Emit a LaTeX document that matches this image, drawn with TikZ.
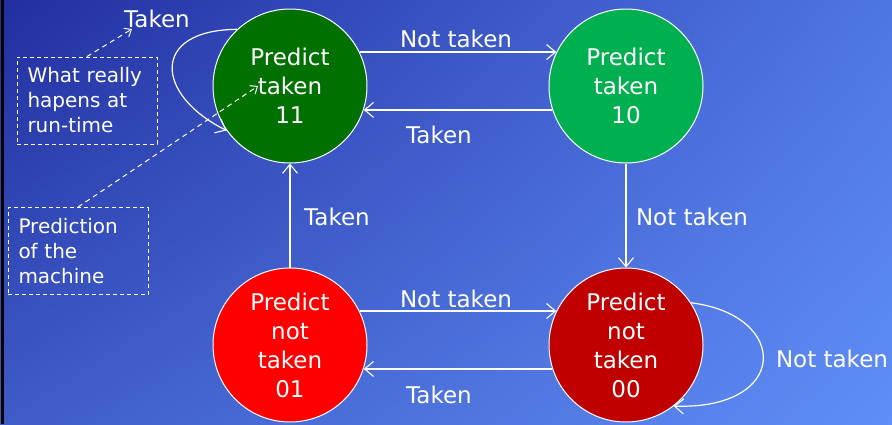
\documentclass[tikz,border=0pt]{standalone}
\usepackage{fontspec}
\setmainfont{DejaVu Sans}
\usetikzlibrary{arrows.meta,shadings}

\definecolor{bgTL}{RGB}{34,46,160}
\definecolor{bgTR}{RGB}{78,118,226}
\definecolor{bgBL}{RGB}{62,92,200}
\definecolor{bgBR}{RGB}{96,142,246}
\definecolor{stDarkGreen}{RGB}{0,112,0}
\definecolor{stGreen}{RGB}{0,176,80}
\definecolor{stRed}{RGB}{255,0,0}
\definecolor{stDarkRed}{RGB}{192,0,0}

\tikzset{
  state/.style={circle, draw=white, line width=1pt, minimum size=154pt,
    inner sep=0pt, text=white, align=center,
    font=\fontsize{23}{29}\selectfont},
  trans/.style={draw=white, line width=1.2pt,
    -{Straight Barb[length=9pt,width=15pt,line width=1.1pt]}},
  edgelabel/.style={text=white, anchor=base, inner sep=0pt,
    font=\fontsize{23}{27}\selectfont},
  notebox/.style={draw=white, line width=0.9pt, dash pattern=on 4pt off 3pt,
    minimum width=140pt, minimum height=87pt, text width=119pt,
    inner xsep=10.5pt, inner ysep=0pt,
    align=left, text=white, font=\fontsize{20}{25}\selectfont},
  pointer/.style={draw=white, line width=1pt, dash pattern=on 5pt off 4pt,
    -{Straight Barb[length=6pt,width=10pt,line width=1pt]}}
}

\begin{document}
\begin{tikzpicture}[x=1pt, y=-1pt]
  % background with diagonal blue gradient
  \useasboundingbox (0,0) rectangle (892,424);
  \shade[upper left=bgTL, upper right=bgTR, lower left=bgBL, lower right=bgBR]
    (0,0) rectangle (892,424);
  \fill[black] (1,0) rectangle (4,424);

  % states of the 2-bit predictor
  \node[state, fill=stDarkGreen] (s11) at (290,86) {Predict\\taken\\11};
  \node[state, fill=stGreen]     (s10) at (626,86) {Predict\\taken\\10};
  \node[state, fill=stRed]       (s01) at (290,345) {Predict\\not\\taken\\01};
  \node[state, fill=stDarkRed]   (s00) at (626,345) {Predict\\not\\taken\\00};

  % horizontal transitions
  \draw[trans] (s11.26) -- (s10.154);
  \draw[trans] (s10.198) -- (s11.-18);
  \draw[trans] (s01.26) -- (s00.154);
  \draw[trans] (s00.198) -- (s01.-18);

  % vertical transitions
  \draw[trans] (s01.north) -- (s11.south);
  \draw[trans] (s10.south) -- (s00.north);

  % self loops
  \draw[trans] (s11.133) .. controls (150,30) and (155,95) .. (s11.215);
  \draw[trans] (s00.33) .. controls (790,315) and (790,410) .. (s00.-52);

  % transition labels
  \node[edgelabel] (lNT1) at (456,47)  {Not taken};
  \node[edgelabel] (lT1)  at (439,143) {Taken};
  \node[edgelabel] (lNT2) at (456,307) {Not taken};
  \node[edgelabel] (lT2)  at (439,403) {Taken};
  \node[edgelabel] (lT3)  at (337,225) {Taken};
  \node[edgelabel] (lNT3) at (692,225) {Not taken};
  \node[edgelabel] (lNT4) at (832,367) {Not taken};
  \node[edgelabel] (lTop) at (157,27)  {Taken};

  % legend boxes
  \node[notebox] (real) at (87,100.5) {What really\\hapens at\\run-time};
  \node[notebox] (pred) at (78,251)   {Prediction\\of the\\machine};

  \coordinate (realTip) at (132,29);
  \coordinate (predTip) at (258,86);
  \draw[pointer] (real.north) -- (realTip);
  \draw[pointer] (pred.north) -- (predTip);
\end{tikzpicture}
\end{document}
